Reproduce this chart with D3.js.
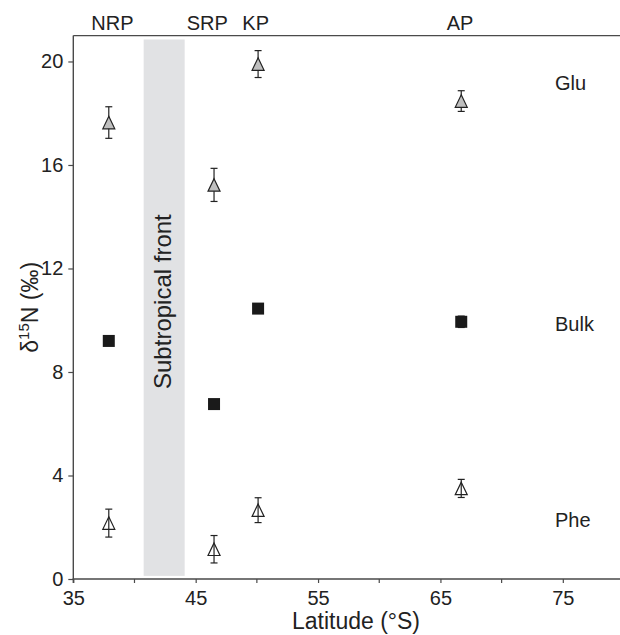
<!DOCTYPE html>
<html>
<head>
<meta charset="utf-8">
<script src="https://cdn.jsdelivr.net/npm/d3@7"></script>
<style>
  html, body { margin: 0; padding: 0; background: #fff; }
  svg { display: block; font-family: "Liberation Sans", Arial, Helvetica, sans-serif; }
</style>
</head>
<body>
<svg id="chart" width="620" height="635"></svg>
<script>
// Station latitudes (°S)
const stations = ["NRP", "SRP", "KP", "AP"];
const latitudes = [37.9, 46.5, 50.1, 66.7];

// δ15N values (‰) and standard deviations
const gluValues = [17.64, 15.23, 19.9, 18.47];
const gluErrors = [0.61, 0.64, 0.52, 0.4];
const bulkValues = [9.2, 6.76, 10.45, 9.94];
const bulkErrors = [0, 0, 0, 0.22];
const pheValues = [2.16, 1.15, 2.66, 3.5];
const pheErrors = [0.54, 0.53, 0.48, 0.35];

// Axis ticks
const xMajorTicks = [35, 45, 55, 65, 75];
const xMinorTicks = [40, 50, 60, 70];
const yTicks = [0, 4, 8, 12, 16, 20];

// Subtropical front band (°S)
const frontBand = [40.75, 44.1];

// Station label positions along the top (°S)
const stationLabelLat = [38.2, 45.95, 49.9, 66.6];

const svg = d3.select("#chart");
const x = d3.scaleLinear().domain([35, 80]).range([73.3, 624]);
const y = d3.scaleLinear().domain([0, 21]).range([579, 35.6]);

const axisColor = "#4a4a4a";
const textColor = "#222";

// Subtropical front band
svg.append("rect")
  .attr("x", x(frontBand[0]))
  .attr("width", x(frontBand[1]) - x(frontBand[0]))
  .attr("y", y(20.85))
  .attr("height", y(0.12) - y(20.85))
  .attr("fill", "#e1e2e4");

svg.append("text")
  .attr("transform", `translate(171,${y(10.72)}) rotate(-90)`)
  .attr("text-anchor", "middle")
  .attr("font-size", 24)
  .attr("fill", textColor)
  .text("Subtropical front");

// Top frame line
svg.append("line")
  .attr("x1", x(35)).attr("x2", 620)
  .attr("y1", y(21)).attr("y2", y(21))
  .attr("stroke", axisColor).attr("stroke-width", 1.4);

// Bottom axis
const xAxis = svg.append("g").attr("transform", `translate(0,${y(0)})`);
xAxis.call(d3.axisBottom(x).tickValues(xMajorTicks).tickSize(4).tickPadding(8).tickFormat(d3.format("d")));
xAxis.append("g").selectAll("line").data(xMinorTicks).join("line")
  .attr("x1", d => x(d)).attr("x2", d => x(d))
  .attr("y1", 0).attr("y2", 4)
  .attr("stroke", axisColor).attr("stroke-width", 1.2);

// Left axis
const yAxis = svg.append("g").attr("transform", `translate(${x(35)},0)`);
yAxis.call(d3.axisLeft(y).tickValues(yTicks).tickSize(5).tickPadding(5).tickFormat(d3.format("d")));

[xAxis, yAxis].forEach(g => {
  g.select(".domain").attr("stroke", axisColor).attr("stroke-width", 1.4);
  g.selectAll(".tick line").attr("stroke", axisColor).attr("stroke-width", 1.2);
  g.selectAll(".tick text").attr("font-size", 20).attr("fill", textColor)
    .attr("font-family", "Liberation Sans, Arial, sans-serif");
});
// Extend the bottom axis line to the right edge
xAxis.select(".domain").attr("d", `M${x(35)},4V0H620`);
yAxis.select(".domain").attr("d", `M0,${y(0)}V${y(21)}`);

// Axis titles
svg.append("text")
  .attr("x", 356).attr("y", 629)
  .attr("text-anchor", "middle")
  .attr("font-size", 23)
  .attr("fill", textColor)
  .text("Latitude (°S)");

const yTitle = svg.append("text")
  .attr("transform", `translate(38,${y(10.5)}) rotate(-90)`)
  .attr("text-anchor", "middle")
  .attr("font-size", 23)
  .attr("fill", textColor);
yTitle.append("tspan").text("δ");
yTitle.append("tspan").attr("font-size", 15).attr("dy", -9).text("15");
yTitle.append("tspan").attr("dy", 9).text("N (‰)");

// Station labels
svg.append("g").selectAll("text").data(stations).join("text")
  .attr("x", (d, i) => x(stationLabelLat[i]))
  .attr("y", 29.5)
  .attr("text-anchor", "middle")
  .attr("font-size", 20)
  .attr("fill", textColor)
  .text(d => d);

// Series labels
const seriesLabels = [["Glu", 18.9], ["Bulk", 9.58], ["Phe", 2.02]];
svg.append("g").selectAll("text").data(seriesLabels).join("text")
  .attr("x", 555)
  .attr("y", d => y(d[1]))
  .attr("font-size", 20)
  .attr("fill", textColor)
  .text(d => d[0]);

// Error bars
function errorBars(values, errors) {
  const g = svg.append("g").attr("stroke", "#222").attr("stroke-width", 1.2);
  const rows = values.map((v, i) => ({ lat: latitudes[i], v, e: errors[i] })).filter(d => d.e > 0);
  g.selectAll(".stem").data(rows).join("line")
    .attr("x1", d => x(d.lat)).attr("x2", d => x(d.lat))
    .attr("y1", d => y(d.v + d.e)).attr("y2", d => y(d.v - d.e));
  ["top", "bot"].forEach(k => {
    g.selectAll(".cap-" + k).data(rows).join("line")
      .attr("x1", d => x(d.lat) - 3.5).attr("x2", d => x(d.lat) + 3.5)
      .attr("y1", d => y(k === "top" ? d.v + d.e : d.v - d.e))
      .attr("y2", d => y(k === "top" ? d.v + d.e : d.v - d.e));
  });
}

function triangles(values, fill) {
  const w = 12, h = 12.5;
  svg.append("g").selectAll("path").data(values).join("path")
    .attr("d", (v, i) => {
      const cx = x(latitudes[i]), cy = y(v);
      return `M${cx},${cy - h / 2}L${cx + w / 2},${cy + h / 2}L${cx - w / 2},${cy + h / 2}Z`;
    })
    .attr("fill", fill)
    .attr("stroke", "#222")
    .attr("stroke-width", 1.2);
}

errorBars(gluValues, gluErrors);
triangles(gluValues, "#bfbfbf");
errorBars(pheValues, pheErrors);
triangles(pheValues, "none");
errorBars(bulkValues, bulkErrors);

// Bulk squares
const sq = 12;
svg.append("g").selectAll("rect").data(bulkValues).join("rect")
  .attr("x", (v, i) => x(latitudes[i]) - sq / 2)
  .attr("y", v => y(v) - sq / 2)
  .attr("width", sq).attr("height", sq)
  .attr("fill", "#1a1a1a");
</script>
</body>
</html>
